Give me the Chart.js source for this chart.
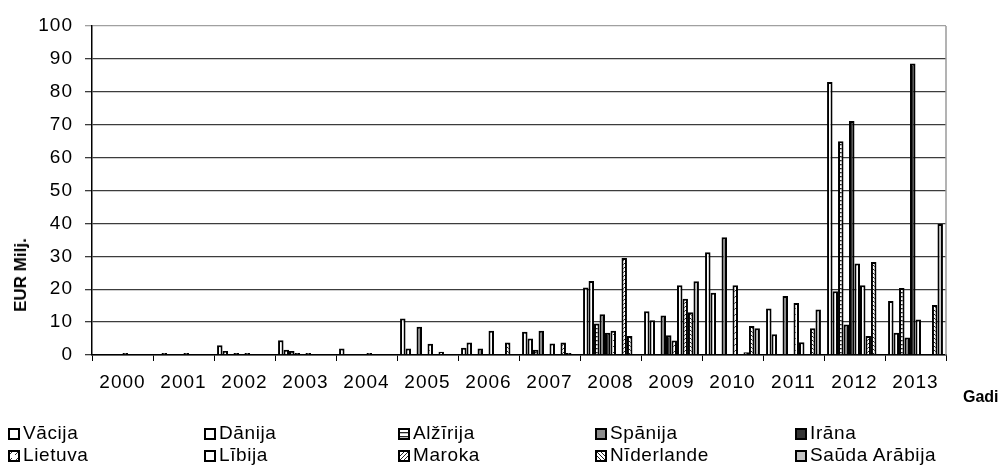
<!doctype html>
<html>
<head>
<meta charset="UTF-8">
<title>EUR Milj. pa gadiem</title>
<script src="https://cdn.jsdelivr.net/npm/chart.js@4.4.0/dist/chart.umd.min.js"></script>
<style>
body{
	margin:0;
	background:#fff;
	font-family:"Liberation Sans", Arial, sans-serif;
}
#wrap{
	position:relative;
	width:1008px;
	height:466px;
}
.ytitle{
	position:absolute;
	left:21px;
	top:275px;
	font-size:17px;
	font-weight:bold;
	transform:translate(-50%,-50%) rotate(-90deg);
	white-space:nowrap;
}
.gadi{
	position:absolute;
	left:963px;
	top:388px;
	font-size:16px;
	font-weight:bold;
}
.item{
	position:absolute;
	font-size:19px;
	letter-spacing:0.6px;
	line-height:20px;
	white-space:nowrap;
}
.item canvas{
	vertical-align:-1px;
	margin-right:3px;
}
</style>
</head>
<body>

<div id="wrap">
<canvas id="chart" width="1008" height="466"></canvas>
<div class="ytitle">EUR Milj.</div>
<div class="gadi">Gadi</div>
<div id="legend"></div>
</div>

<script>

// data (EUR Milj.)
var years = ['2000','2001','2002','2003','2004','2005','2006','2007','2008','2009','2010','2011','2012','2013'];
var yTicks = [0,10,20,30,40,50,60,70,80,90,100];

var vacija     = [0,   0,   3.0, 4.5, 2.0, 11.1, 2.2, 7.1, 20.5, 13.3, 31.2, 14.1, 83.0, 16.4];
var danija     = [0,   0.6, 1.2, 1.6, 0,   2.0,  3.8, 5.0, 22.5, 10.6, 18.9, 6.3,  19.4, 6.8];
var alzirija   = [0,   0,   0,   1.2, 0,   0,    0,   1.6, 9.6,  0,    0,    0,    65.0, 20.4];
var spanija    = [0,   0,   0.6, 0.6, 0,   8.6,  2.0, 7.4, 12.4, 12.0, 35.8, 17.9, 9.3,  5.3];
var irana      = [0,   0,   0,   0,   0,   0,    0,   0,   6.8,  6.0,  0,    0,    71.1, 88.6];
var lietuva    = [0.6, 0.6, 0.6, 0.6, 0.6, 3.4,  7.4, 3.5, 7.4,  4.4,  21.2, 15.8, 27.8, 10.8];
var libija     = [0,   0,   0,   0,   0,   0,    0,   0,   0,    21.2, 0,    3.9,  21.2, 0];
var maroka     = [0,   0,   0,   0,   0,   1.0,  0,   3.8, 29.5, 17.1, 0.8,  0,    5.8,  0];
var niderlande = [0,   0,   0,   0,   0,   0,    3.8, 0.6, 5.8,  13.0, 8.8,  8.1,  28.3, 15.2];
var sauda      = [0,   0,   0,   0,   0,   0,    0,   0,   0,    22.4, 8.1,  13.8, 0,    39.8];

var names = ['Vācija','Dānija','Alžīrija','Spānija','Irāna','Lietuva','Lībija','Maroka','Nīderlande','Saūda Arābija'];
var series = [vacija, danija, alzirija, spanija, irana, lietuva, libija, maroka, niderlande, sauda];


// fills: plain greys and a few line patterns
function makePattern(kind){
	var c = document.createElement('canvas');
	var g = c.getContext('2d');
	if(kind=='ladder'){
		c.width=4; c.height=4;
		g.fillStyle='#fff'; g.fillRect(0,0,4,4);
		g.fillStyle='#222'; g.fillRect(0,0,4,1.3);
	}else if(kind=='diag'){
		c.width=4; c.height=4;
		g.fillStyle='#fff'; g.fillRect(0,0,4,4);
		g.strokeStyle='#222'; g.lineWidth=1;
		g.beginPath(); g.moveTo(0,4); g.lineTo(4,0); g.stroke();
	}else if(kind=='diag2'){
		c.width=4; c.height=4;
		g.fillStyle='#fff'; g.fillRect(0,0,4,4);
		g.strokeStyle='#222'; g.lineWidth=1;
		g.beginPath(); g.moveTo(0,0); g.lineTo(4,4); g.stroke();
	}else{
		c.width=6; c.height=6;
		g.fillStyle='#fff'; g.fillRect(0,0,6,6);
		g.strokeStyle='#333'; g.lineWidth=1;
		g.beginPath(); g.moveTo(1,5); g.lineTo(4,2); g.stroke();
	}
	return g.createPattern(c,'repeat');
}

var fills = [
	'#ffffff',
	'#ffffff',
	makePattern('ladder'),
	'#8c8c8c',
	'#333333',
	makePattern('sparse'),
	'#ffffff',
	makePattern('diag'),
	makePattern('diag2'),
	'#c4c4c4'
];

var datasets = [];
for(var i=0;i<series.length;i++){
	datasets.push({
		label: names[i],
		data: series[i],
		backgroundColor: fills[i],
		borderColor: '#000',
		borderWidth: 2,
		categoryPercentage: 0.9,
		barPercentage: 1.0
	});
}

// right frame line and wider text like the original
var framePlugin = {
	id:'frame',
	beforeDraw:function(chart){
		chart.ctx.letterSpacing = '1px';
	},
	afterDraw:function(chart){
		var a = chart.chartArea, ctx = chart.ctx;
		ctx.save();
		ctx.strokeStyle='#9a9a9a';
		ctx.lineWidth=1.5;
		ctx.beginPath();
		ctx.moveTo(a.right, a.top);
		ctx.lineTo(a.right, a.bottom);
		ctx.stroke();
		ctx.restore();
	}
};

var ctx = document.getElementById('chart');
var myChart = new Chart(ctx, {
	type: 'bar',
	data: {
		labels: years,
		datasets: datasets
	},
	plugins: [framePlugin],
	options: {
		responsive: false,
		animation: false,
		layout: { padding: { top: 26, right: 62, bottom: 59, left: 0 } },
		plugins: {
			legend: { display: false },
			tooltip: { enabled: false }
		},
		scales: {
			x: {
				grid: {
					offset: true,
					drawOnChartArea: false,
					drawTicks: true,
					tickLength: 6,
					color: '#000'
				},
				border: { color: '#000', width: 1.5 },
				ticks: {
					color: '#000',
					font: { family: 'Liberation Sans', size: 19 },
					padding: 10,
					autoSkip: false,
					maxRotation: 0
				},
				afterFit: function(s){ s.height = 52; }
			},
			y: {
				min: 0,
				max: 100,
				afterBuildTicks: function(s){
					s.ticks = yTicks.map(function(v){ return {value:v}; });
				},
				grid: {
					color: function(c){ return c.tick && c.tick.value==100 ? '#a0a0a0' : '#3c3c3c'; },
					lineWidth: 1.3,
					tickLength: 7,
					drawTicks: true
				},
				border: { color: '#000', width: 1.5 },
				ticks: {
					color: '#000',
					font: { family: 'Liberation Sans', size: 19 },
					padding: 12
				},
				afterFit: function(s){ s.width = 92; }
			}
		}
	}
});


// legend in five columns, two rows
var legend = document.getElementById('legend');
var colX = [8, 204, 398, 595, 795];
var rowY = [423, 445];
for(var i=0;i<names.length;i++){
	var d = document.createElement('div');
	d.className='item';
	d.style.left = colX[i%5]+'px';
	d.style.top = rowY[Math.floor(i/5)]+'px';
	var sw = document.createElement('canvas');
	sw.width=12; sw.height=12;
	var g = sw.getContext('2d');
	g.fillStyle = fills[i];
	g.fillRect(0,0,12,12);
	g.strokeStyle='#000';
	g.lineWidth=2;
	g.strokeRect(1,1,10,10);
	d.appendChild(sw);
	d.appendChild(document.createTextNode(names[i]));
	legend.appendChild(d);
}

</script>

</body>
</html>
